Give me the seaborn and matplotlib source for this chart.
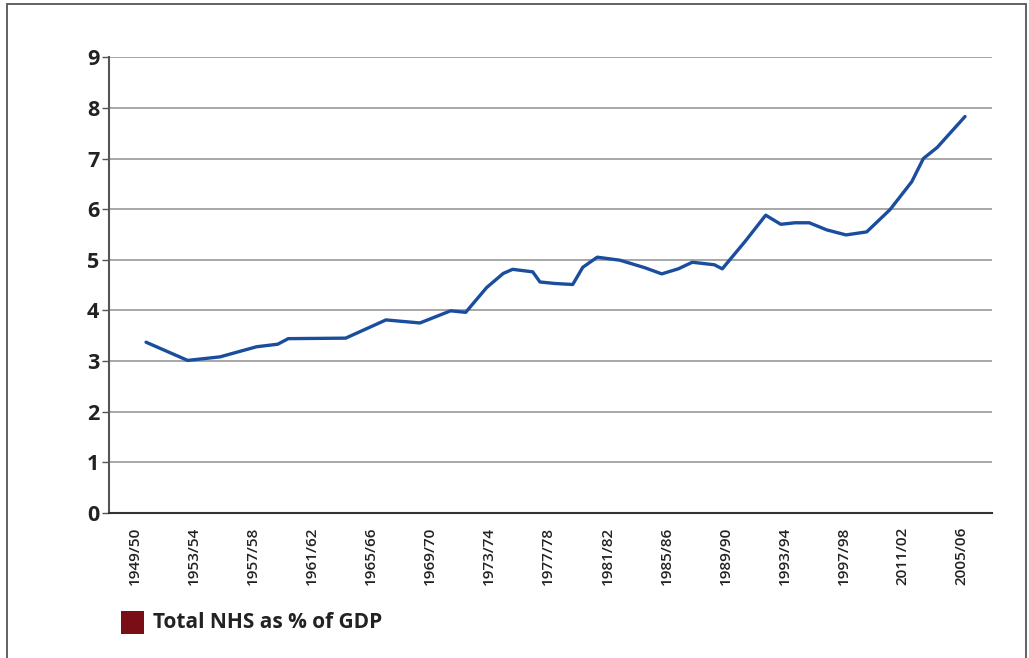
import matplotlib
matplotlib.use("Agg")
import matplotlib.pyplot as plt
from matplotlib.patches import Rectangle
import pandas as pd
import seaborn as sns

# NHS spending as % of GDP (x = start year of financial year)
years = [1949.75, 1952.57, 1954.76, 1957.24, 1958.67, 1959.38, 1963.27, 1966.0,
         1968.3, 1970.38, 1971.4, 1972.82, 1973.95, 1974.58, 1975.94, 1976.43,
         1977.45, 1978.65, 1979.33, 1980.31, 1981.85, 1983.55, 1984.68, 1985.8,
         1986.75, 1988.24, 1988.78, 1990.32, 1991.72, 1992.74, 1993.71, 1994.67,
         1995.85, 1997.16, 1998.56, 2000.14, 2001.61, 2002.4, 2003.34, 2005.22]
nhs_pct_gdp = [3.37, 3.01, 3.08, 3.28, 3.33, 3.44, 3.45, 3.81,
               3.75, 3.99, 3.96, 4.45, 4.73, 4.81, 4.76, 4.56,
               4.53, 4.51, 4.85, 5.05, 4.99, 4.84, 4.72, 4.82,
               4.95, 4.90, 4.82, 5.36, 5.88, 5.70, 5.73, 5.73,
               5.59, 5.49, 5.55, 5.99, 6.54, 7.00, 7.22, 7.83]

tick_years = [1949, 1953, 1957, 1961, 1965, 1969, 1973, 1977,
              1981, 1985, 1989, 1993, 1997, 2001, 2005]
tick_labels = ["1949/50", "1953/54", "1957/58", "1961/62", "1965/66",
               "1969/70", "1973/74", "1977/78", "1981/82", "1985/86",
               "1989/90", "1993/94", "1997/98", "2011/02", "2005/06"]

df = pd.DataFrame({"year": years, "pct": nhs_pct_gdp})

sns.set_theme(style="white")
plt.rcParams["font.family"] = ["Open Sans", "DejaVu Sans"]

fig = plt.figure(figsize=(10.29, 6.58), dpi=100)
ax = fig.add_axes([0.1059, 0.2208, 0.8579, 0.6921])

sns.lineplot(data=df, x="year", y="pct", ax=ax, color="#1a4d9e", linewidth=2.4)

ax.set_xlim(1947.24, 2007.03)
ax.set_ylim(0, 9)
ax.set_yticks(range(0, 10))
ax.set_yticklabels([str(i) for i in range(10)], fontsize=15.5, fontweight="bold",
                   color="#222222")
ax.set_xticks(tick_years)
ax.set_xticklabels(tick_labels, rotation=90, fontsize=11, fontweight=600,
                   color="#222222", va="top", ha="center")
ax.tick_params(axis="x", length=0, pad=10)
ax.tick_params(axis="y", length=5, width=1, color="#555555", pad=2, direction="out",
               left=True)
ax.set_xlabel("")
ax.set_ylabel("")

ax.grid(axis="y", color="#a0a0a0", linewidth=1.3)
ax.grid(axis="x", visible=False)
ax.set_axisbelow(True)
for side in ["top", "right"]:
    ax.spines[side].set_visible(False)
ax.spines["left"].set_color("#555555")
ax.spines["left"].set_linewidth(1.5)
ax.spines["bottom"].set_color("#333333")
ax.spines["bottom"].set_linewidth(1.5)

# legend swatch and label
fig.patches.append(Rectangle((121 / 1029, 1 - 634 / 658), 23 / 1029, 23 / 658,
                             transform=fig.transFigure, facecolor="#7a0e16",
                             edgecolor="none"))
fig.text(153 / 1029, 1 - 623 / 658, "Total NHS as % of GDP", fontsize=15,
         fontweight="bold", color="#222222", va="center", ha="left")

# outer frame
fig.patches.append(Rectangle((7 / 1029, -0.1), (1026 - 7) / 1029, 1.1 - 4 / 658,
                             transform=fig.transFigure, facecolor="none",
                             edgecolor="#555555", linewidth=1.3))

fig.savefig("out.png", dpi=100)
